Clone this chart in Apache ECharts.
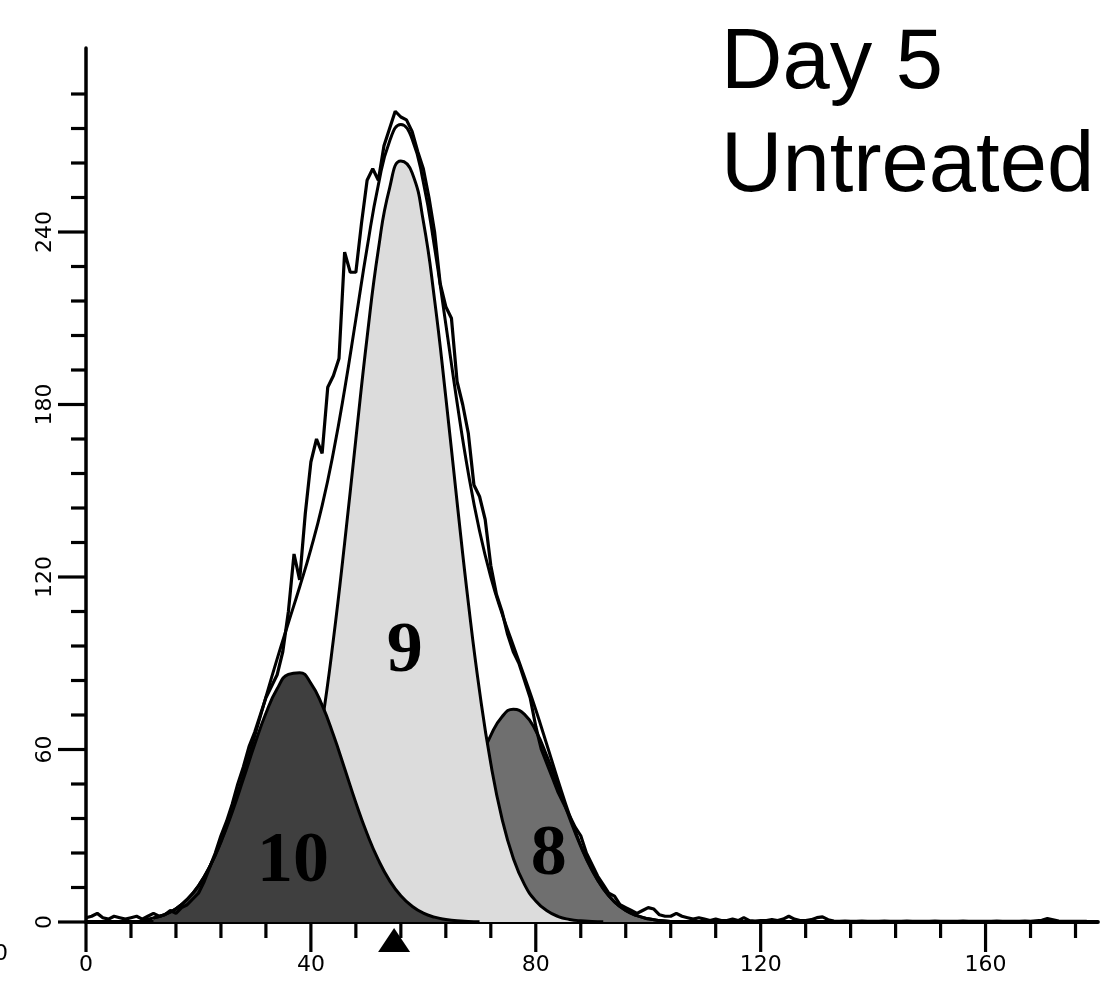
<!DOCTYPE html>
<html>
<head>
<meta charset="utf-8">
<script src="https://cdn.jsdelivr.net/npm/echarts@6/dist/echarts.min.js"></script>
<style>
html,body{margin:0;padding:0;background:#fff;}
#chart{width:1107px;height:985px;}
</style>
</head>
<body>
<div id="chart"></div>
<script>
// ---- tick values ----
const xMajorTicks = [0, 40, 80, 120, 160];
const xMinorTicks = [8, 16, 24, 32, 48, 56, 64, 72, 88, 96, 104, 112, 128, 136, 144, 152, 168, 176];
const yMajorTicks = [0, 60, 120, 180, 240];
const yMinorTicks = [12, 24, 36, 48, 72, 84, 96, 108, 132, 144, 156, 168, 192, 204, 216, 228, 252, 264, 276, 288];

// ---- fitted components (channel, count) ----
const peak10X = [12,14,16,18,20,22,24,26,28,30,32,34,36,38,40,42,44,46,48,50,52,54,56,58,60,62,64,66,68,70];
const peak10Y = [1.4,2.6,4.6,7.9,12.6,19.2,27.8,38.2,49.8,61.7,72.6,81.1,86.1,86.7,83.0,75.4,65.1,53.4,41.5,30.7,21.6,14.4,9.1,5.5,3.1,1.7,0.9,0.4,0.2,0.1];

const peak9X = [24,26,28,30,32,34,36,38,40,42,44,46,48,50,52,54,56,58,60,62,64,66,68,70,72,74,76,78,80,82,84,86,88,90,92];
const peak9Y = [0.3,0.7,1.5,2.9,5.7,10.4,18.0,29.8,46.7,69.4,98.2,131.8,168.0,203.4,233.9,255.3,264.7,260.6,243.7,216.4,182.5,146.1,111.1,80.3,55.1,35.9,22.2,13.0,7.3,3.9,1.9,0.9,0.4,0.2,0.1];

const peak8X = [50,52,54,56,58,60,62,64,66,68,70,72,74,76,78,80,82,84,86,88,90,92,94,96,98,100,102,104];
const peak8Y = [0.4,0.9,1.9,3.6,6.3,10.5,16.5,24.5,34.2,44.9,55.6,64.9,71.4,74.0,72.2,66.5,57.6,47.1,36.2,26.3,18.0,11.6,7.0,4.0,2.2,1.1,0.5,0.2];

const fitSumX = [10,12,14,16,18,20,22,24,26,28,30,32,34,36,38,40,42,44,46,48,50,52,54,56,58,60,62,64,66,68,70,72,74,76,78,80,82,84,86,88,90,92,94,96,98,100,102,104];
const fitSumY = [0.7,1.4,2.6,4.6,7.9,12.6,19.2,28.1,38.9,51.3,64.6,78.3,91.5,104.1,116.5,129.7,144.8,163.3,185.2,209.7,234.5,256.4,271.6,277.4,272.4,257.3,234.6,207.9,180.7,156.2,136.0,120.0,107.3,96.2,85.2,73.8,61.5,49.0,37.1,26.7,18.2,11.6,7.0,4.0,2.2,1.1,0.5,0.2];

// ---- raw histogram, channels 0..178 ----
const histY = [
  1.5,2,3,1.5,1,2,1.5,1,1.5,2,
  1,2,3,2,2.5,4,3,5,6,8,
  10,14,19,24,30,35,41,48,54,61,
  66,72,78,82,86,94,108,128,119,142,
  160,168,163,186,190,196,233,226,226,243,
  258,262,258,270,276,282,280,279,275,268,
  262,252,240,222,214,210,188,180,170,152,
  148,140,124,114,108,100,94,90,84,78,
  68,60,55,50,45,41,37,33,30,24,
  20,16,13,10,9,6,5,4,3,4,
  5,4.5,2.5,2,2,3,2,1.5,1,1.5,
  1,0.5,1,0.5,0.5,1,0.5,1.5,0.5,0.3,
  0.5,0.5,0.8,0.5,1,2,1,0.5,0.5,0.8,
  1.5,1.8,0.8,0.3,0.2,0.3,0.2,0.2,0.3,0.2,
  0.2,0.2,0.3,0.2,0.2,0.2,0.3,0.2,0.2,0.2,
  0.2,0.3,0.2,0.2,0.2,0.2,0.3,0.2,0.2,0.2,
  0.2,0.2,0.3,0.2,0.2,0.2,0.2,0.3,0.2,0.4,
  0.6,1.2,0.8,0.3,0.2,0.2,0.2,0.2,0.2
];
const histX = histY.map((_, i) => i);

// ---- annotations ----
const peakLabels = [
  {text: '10', x: 36.8, y: 20.9},
  {text: '9',  x: 56.7, y: 93.9},
  {text: '8',  x: 82.3, y: 23.0}
];
const markerX = [54.8];
const markerY = [-6.3];
const titleLines = ['Day 5', 'Untreated'];

const pairs = (xs, ys) => xs.map((x, i) => [x, ys[i]]);

const chart = echarts.init(document.getElementById('chart'), null, {renderer: 'canvas'});

const axisFont = {fontFamily: 'DejaVu Sans', fontSize: 22, color: '#000'};

// tick marks drawn through the axes' own scales
function xTickSeries(values, len) {
  return {
    type: 'custom', z: 8, clip: false, silent: true,
    data: values.map(v => [v, 0]),
    renderItem: (params, api) => {
      const p = api.coord([api.value(0), 0]);
      return {type: 'line', shape: {x1: p[0], y1: p[1], x2: p[0], y2: p[1] + len},
              style: {stroke: '#000', lineWidth: 3.2}};
    }
  };
}
function yTickSeries(values, len) {
  return {
    type: 'custom', z: 8, clip: false, silent: true,
    data: values.map(v => [0, v]),
    renderItem: (params, api) => {
      const p = api.coord([0, api.value(1)]);
      return {type: 'line', shape: {x1: p[0], y1: p[1], x2: p[0] - len, y2: p[1]},
              style: {stroke: '#000', lineWidth: 3.2}};
    }
  };
}

const option = {
  backgroundColor: '#ffffff',
  animation: false,
  grid: {left: 86, right: 9, top: 48, bottom: 63, containLabel: false},
  xAxis: {
    type: 'value', min: 0, max: 180,
    splitLine: {show: false},
    axisLine: {show: true, lineStyle: {color: '#000', width: 3.8}},
    axisTick: {show: false},
    axisLabel: {show: true, customValues: xMajorTicks, margin: 32, ...axisFont}
  },
  yAxis: {
    type: 'value', min: 0, max: 304,
    splitLine: {show: false},
    axisLine: {show: true, lineStyle: {color: '#000', width: 3.5}},
    axisTick: {show: false},
    axisLabel: {show: true, customValues: yMajorTicks, rotate: 90, margin: 30, ...axisFont}
  },
  series: [
    {
      name: '8', type: 'line', z: 2, smooth: true, symbol: 'none',
      data: pairs(peak8X, peak8Y),
      lineStyle: {color: '#000', width: 3},
      areaStyle: {color: '#6f6f6f', opacity: 1}
    },
    {
      name: '9', type: 'line', z: 3, smooth: true, symbol: 'none',
      data: pairs(peak9X, peak9Y),
      lineStyle: {color: '#000', width: 3},
      areaStyle: {color: '#dcdcdc', opacity: 1}
    },
    {
      name: '10', type: 'line', z: 4, smooth: true, symbol: 'none',
      data: pairs(peak10X, peak10Y),
      lineStyle: {color: '#000', width: 3},
      areaStyle: {color: '#3f3f3f', opacity: 1}
    },
    {
      name: 'fit', type: 'line', z: 5, smooth: true, symbol: 'none',
      data: pairs(fitSumX, fitSumY),
      lineStyle: {color: '#000', width: 3}
    },
    {
      name: 'histogram', type: 'line', z: 6, smooth: false, symbol: 'none',
      data: pairs(histX, histY),
      lineStyle: {color: '#000', width: 3.2}
    },
    {
      name: 'labels', type: 'scatter', z: 7, symbolSize: 1,
      itemStyle: {color: 'rgba(0,0,0,0)', opacity: 1},
      data: peakLabels.map(p => ({value: [p.x, p.y], name: p.text})),
      label: {
        show: true, position: 'inside', formatter: p => p.name,
        fontFamily: 'Liberation Serif', fontWeight: 'bold', fontSize: 72, color: '#000', opacity: 1
      }
    },
    {
      name: 'marker', type: 'scatter', z: 7, clip: false,
      symbol: 'triangle', symbolSize: [32, 24],
      itemStyle: {color: '#000', opacity: 1},
      data: pairs(markerX, markerY)
    },
    xTickSeries(xMajorTicks, 30),
    xTickSeries(xMinorTicks, 16),
    yTickSeries(yMajorTicks, 28),
    yTickSeries(yMinorTicks, 15)
  ],
  graphic: [
    {type: 'text', left: 721, top: 22, style: {text: titleLines[0], fontFamily: 'Liberation Sans', fontSize: 85, fill: '#000'}},
    {type: 'text', left: 721, top: 125, style: {text: titleLines[1], fontFamily: 'Liberation Sans', fontSize: 85, fill: '#000'}},
    {type: 'text', left: -6, top: 943, style: {text: '0', fontFamily: 'DejaVu Sans', fontSize: 22, fill: '#000'}}
  ]
};
chart.setOption(option);
</script>
</body>
</html>
